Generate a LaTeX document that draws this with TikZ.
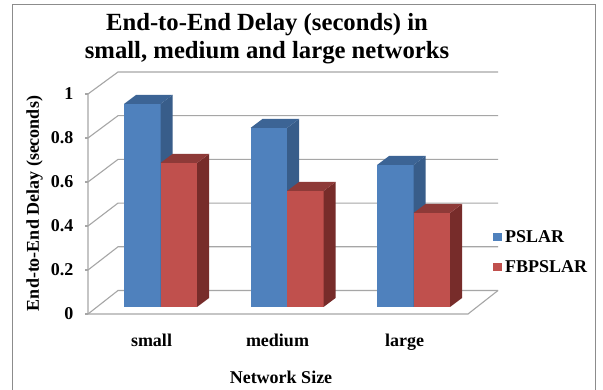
\documentclass[tikz,border=0pt]{standalone}
\usepackage{fontspec}
\setmainfont{Liberation Serif}
\definecolor{bluefront}{HTML}{4F81BD}
\definecolor{blueside}{HTML}{385D8A}
\definecolor{bluetop}{HTML}{3C6495}
\definecolor{redfront}{HTML}{C0504D}
\definecolor{redside}{HTML}{772C2A}
\definecolor{redtop}{HTML}{8E3A38}
\definecolor{gridgray}{HTML}{A6A6A6}
\definecolor{framegray}{HTML}{8C8C8C}
% 3D column: #1 left x, #2 top y, #3 front, #4 side, #5 top colour
\newcommand{\cbar}[5]{%
  \fill[#3] (#1,307) rectangle ({#1+36.5},#2);
  \fill[#4] ({#1+36.5},307) -- ({#1+36.5},#2) -- ({#1+48.5},{#2-9}) -- ({#1+48.5},298) -- cycle;
  \fill[#5] (#1,#2) -- ({#1+12},{#2-9}) -- ({#1+48.5},{#2-9}) -- ({#1+36.5},#2) -- cycle;
}
\begin{document}
\begin{tikzpicture}[x=1pt,y=-1pt,
  grid/.style={draw=gridgray,line width=1.1pt},
  lbl/.style={font=\fontsize{18}{20}\selectfont\bfseries,inner sep=0pt},
  ttl/.style={font=\fontsize{24.7}{28}\selectfont\bfseries,inner sep=0pt}]
\useasboundingbox (0,0) rectangle (603,390);
\fill[white] (0,0) rectangle (603,390);
\draw[framegray,line width=1pt] (12,395) -- (12,5) -- (595,5) -- (595,395);
% walls and gridlines
\foreach \k in {0,...,5}{
  \draw[grid] (88,{314-44*\k}) -- (118,{290.5-43.7*\k}) -- (498,{290.5-43.7*\k});
  \draw[grid] (85,{314-44*\k}) -- (88,{314-44*\k});
}
\draw[grid] (88,94) -- (88,314) -- (468,314) -- (498,290.5);
% bars
\cbar{124}{104}{bluefront}{blueside}{bluetop}
\cbar{160.5}{163}{redfront}{redside}{redtop}
\cbar{250.5}{128}{bluefront}{blueside}{bluetop}
\cbar{287}{191}{redfront}{redside}{redtop}
\cbar{377}{165}{bluefront}{blueside}{bluetop}
\cbar{413.5}{213}{redfront}{redside}{redtop}
% tick labels
\node[lbl,anchor=east] (tick0) at (73.5,314) {0};
\node[lbl,anchor=east] (tick1) at (73.5,270) {0.2};
\node[lbl,anchor=east] (tick2) at (73.5,226) {0.4};
\node[lbl,anchor=east] (tick3) at (73.5,182) {0.6};
\node[lbl,anchor=east] (tick4) at (73.5,138) {0.8};
\node[lbl,anchor=east] (tick5) at (73.5,94) {1};
% axis titles
\node[lbl,rotate=90] (ytitle) at (34.5,203.5) {End-to-End Delay (seconds)};
\node[lbl,anchor=base] (xsmall) at (151.5,347) {small};
\node[lbl,anchor=base] (xmedium) at (277.5,347) {medium};
\node[lbl,anchor=base] (xlarge) at (404.5,347) {large};
\node[lbl,anchor=base] (xtitle) at (281,384) {Network Size};
% chart title
\node[ttl,anchor=base] (title1) at (267,31) {End-to-End Delay (seconds) in};
\node[ttl,anchor=base] (title2) at (267,59) {small, medium and large networks};
% legend
\fill[bluefront] (493,233) rectangle (501.5,241.5);
\node[lbl,anchor=base west] (legA) at (505,243) {PSLAR};
\fill[redfront] (493,263) rectangle (501.5,271.5);
\node[lbl,anchor=base west] (legB) at (505,273) {FBPSLAR};
\end{tikzpicture}
\end{document}
